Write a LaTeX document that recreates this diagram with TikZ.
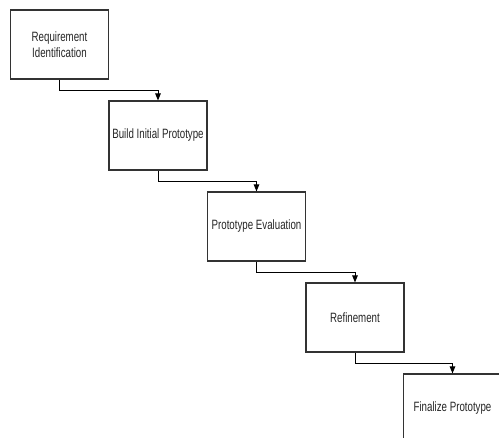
\documentclass[tikz,border=0pt]{standalone}
\usepackage{fontspec}
\setmainfont{Liberation Sans}[FakeStretch=0.72]
\usetikzlibrary{arrows.meta}
\tikzset{
  stage/.style={draw=black!80, line width=1.1pt, fill=white, minimum width=98pt, minimum height=69pt,
    inner sep=0pt, align=center, text=black!85, font=\fontsize{13.5pt}{16pt}\selectfont},
  arr/.style={draw=black, line width=1pt, -{Triangle[length=7pt,width=5.5pt]}}
}
\begin{document}
\begin{tikzpicture}[x=1pt,y=-1pt]
\clip (0,0) rectangle (499,438);
\fill[white] (0,0) rectangle (499,438);
\node[stage] (b1) at (59.5,44.5) {Requirement\\Identification};
\node[stage] (b2) at (158,135.5) {Build Initial Prototype};
\node[stage] (b3) at (256.5,226.5) {Prototype Evaluation};
\node[stage] (b4) at (355,317.5) {Refinement};
\node[stage] (b5) at (452.5,408.5) {Finalize Prototype};
\draw[arr] (b1.south) -- ++(0,11) -| (b2.north);
\draw[arr] (b2.south) -- ++(0,11) -| (b3.north);
\draw[arr] (b3.south) -- ++(0,11) -| (b4.north);
\draw[arr] (b4.south) -- ++(0,11) -| (b5.north);
\end{tikzpicture}
\end{document}
